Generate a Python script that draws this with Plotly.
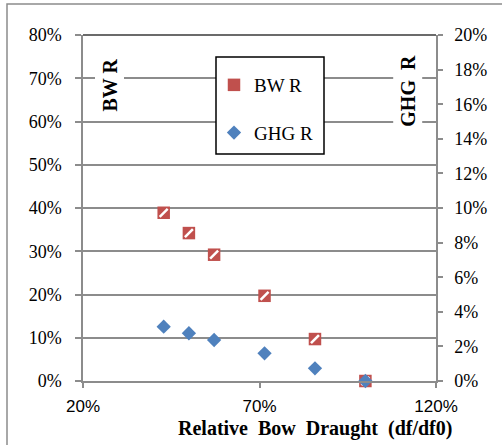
import plotly.graph_objects as go

# Data
draught = [3/7, 3.5/7, 4/7, 5/7, 6/7, 1.0]
bwr = [0.389, 0.342, 0.292, 0.197, 0.097, 0.0]
ghg = [0.0314, 0.0276, 0.0237, 0.0160, 0.0073, 0.0]
x_ticks = [0.2, 0.7, 1.2]
left_ticks = [0.0, 0.1, 0.2, 0.3, 0.4, 0.5, 0.6, 0.7, 0.8]
right_ticks = [0.0, 0.02, 0.04, 0.06, 0.08, 0.10, 0.12, 0.14, 0.16, 0.18, 0.20]

RED = "#C0504D"
BLUE = "#4F81BD"
GRID = "#8C8C8C"
SERIF = "Liberation Serif, Times New Roman, serif"
NARROW = "Liberation Sans Narrow, Arial Narrow, Liberation Sans, sans-serif"

fig = go.Figure()
fig.add_trace(go.Scatter(
    x=draught, y=bwr, mode="markers", name="BW R", legendgroup="a",
    marker=dict(symbol="square", size=12.5, color=RED, line=dict(width=0)),
    yaxis="y", cliponaxis=False,
))
fig.add_trace(go.Scatter(
    x=draught, y=bwr, mode="markers", showlegend=False, hoverinfo="skip",
    marker=dict(symbol="line-ne", size=8, color="white", line=dict(width=2.5, color="white")),
    yaxis="y", cliponaxis=False,
))
fig.add_trace(go.Scatter(
    x=draught, y=ghg, mode="markers", name="GHG R", legendgroup="b",
    marker=dict(symbol="diamond", size=11, color=BLUE, line=dict(width=0)),
    yaxis="y2", cliponaxis=False,
))

fig.update_layout(
    width=502, height=445,
    margin=dict(l=83, r=66, t=35, b=64),
    paper_bgcolor="white", plot_bgcolor="white",
    showlegend=True,
    legend=dict(
        x=(214 - 83) / 353, y=(381 - 66) / 346, xanchor="left", yanchor="top",
        bgcolor="rgba(0,0,0,0)", borderwidth=0,
        font=dict(family=SERIF, size=19, color="black"),
        tracegroupgap=20, traceorder="grouped",
    ),
    xaxis=dict(
        range=[0.2, 1.2], tickvals=x_ticks, tickformat=".0%",
        showgrid=False, zeroline=False,
        showline=True, linecolor=GRID, linewidth=1.5,
        ticks="outside", ticklen=5, tickcolor=GRID, tickwidth=1.5,
        tickfont=dict(family=NARROW, size=17, color="black"),
        ticklabelstandoff=4,
    ),
    yaxis=dict(
        range=[0, 0.8], tickvals=left_ticks, tickformat=".0%",
        showgrid=True, gridcolor=GRID, gridwidth=1.5, zeroline=False,
        showline=True, linecolor=GRID, linewidth=1.5,
        ticks="outside", ticklen=6, tickcolor=GRID, tickwidth=1.5,
        tickfont=dict(family=SERIF, size=18, color="black"),
        ticklabelstandoff=10,
    ),
    yaxis2=dict(
        range=[0, 0.2], tickvals=right_ticks, tickformat=".0%",
        overlaying="y", side="right",
        showgrid=False, zeroline=False,
        showline=True, linecolor=GRID, linewidth=1.5,
        ticks="outside", ticklen=5, tickcolor=GRID, tickwidth=1.5,
        tickfont=dict(family=SERIF, size=18, color="black"),
        ticklabelstandoff=8,
    ),
)

shapes = [
    # outer chart frame (cropped)
    dict(type="rect", xref="paper", yref="paper",
         x0=(7 - 83) / 353, x1=(520 - 83) / 353,
         y0=(381 - 460) / 346, y1=(381 - 4) / 346,
         line=dict(color=GRID, width=1.5), fillcolor="rgba(0,0,0,0)", layer="below"),
    # dark top border of plot area
    dict(type="line", xref="paper", yref="paper", x0=0, x1=1, y0=1, y1=1,
         line=dict(color="#3A3A3A", width=1.5), layer="above"),
    # legend box
    dict(type="rect", xref="paper", yref="paper",
         x0=(216 - 83) / 353, x1=(324 - 83) / 353,
         y0=(381 - 154) / 346, y1=(381 - 57) / 346,
         line=dict(color="black", width=1.5), fillcolor="white", layer="above"),
]
fig.update_layout(shapes=shapes)

fig.add_annotation(
    text="<b>BW R</b>", xref="paper", yref="paper",
    x=(109.5 - 83) / 353, y=(381 - 85) / 346, textangle=-90,
    xanchor="center", yanchor="middle",
    showarrow=False, bgcolor="white", borderpad=3,
    font=dict(family=SERIF, size=20, color="black"),
)
fig.add_annotation(
    text="<b>GHG  R</b>", xref="paper", yref="paper",
    x=(407.7 - 83) / 353, y=(381 - 91) / 346, textangle=-90,
    xanchor="center", yanchor="middle",
    showarrow=False, bgcolor="white", borderpad=3,
    font=dict(family=SERIF, size=20, color="black"),
)
fig.add_annotation(
    text="<b>Relative\u00a0 Bow\u00a0 Draught\u00a0 (df/df0)</b>", xref="paper", yref="paper",
    x=(314.5 - 83) / 353, y=(381 - 428) / 346, xanchor="center", yanchor="middle",
    showarrow=False,
    font=dict(family=SERIF, size=20, color="black"),
)

fig.write_html("out.html")
